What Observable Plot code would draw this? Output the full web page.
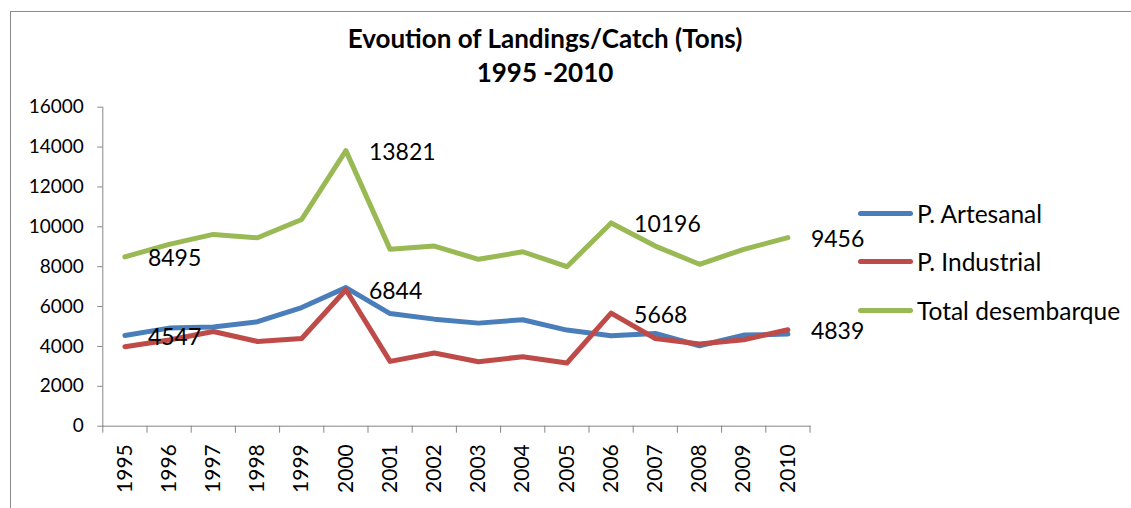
<!DOCTYPE html>
<html>
<head>
<meta charset="utf-8">
<script src="https://cdn.jsdelivr.net/npm/d3@7"></script>
<script src="https://cdn.jsdelivr.net/npm/@observablehq/plot@0.6"></script>
<style>
  body { margin: 0; background: #fff; font-family: Lato, "Open Sans", sans-serif; }
  #wrap { position: relative; width: 1131px; height: 508px; overflow: hidden; background: #fff; }
  #frame { position: absolute; left: 10px; top: 11px; width: 1200px; height: 600px;
           border-top: 1.5px solid #8a8a8a; border-left: 1.5px solid #8a8a8a; pointer-events: none; }
  #title { width: 1090px; height: 74px; padding-top: 21px; text-align: center; font-weight: bold;
           font-size: 26px; line-height: 34px; color: #000; }
  #legend { position: absolute; left: 858px; top: 189px; font-size: 24.5px; color: #000; }
  .row { height: 48.5px; display: flex; align-items: center; }
  .sw { width: 55px; height: 5px; border-radius: 3px; margin-right: 4px; }
  #chart svg { display: block; }
</style>
</head>
<body>
<div id="wrap">
  <div id="title">Evoution of Landings/Catch (Tons)<br>1995 -2010</div>
  <div id="chart"></div>
  <div id="legend"></div>
  <div id="frame"></div>
</div>
<script>
const years = [1995, 1996, 1997, 1998, 1999, 2000, 2001, 2002, 2003, 2004, 2005, 2006, 2007, 2008, 2009, 2010];
const artesanal  = [4547, 4920, 4980, 5240, 5950, 6950, 5650, 5370, 5170, 5340, 4820, 4535, 4650, 4035, 4570, 4620];
const industrial = [3985, 4320, 4750, 4250, 4400, 6844, 3250, 3670, 3235, 3485, 3170, 5668, 4400, 4120, 4335, 4839];
const total      = [8495, 9120, 9620, 9450, 10370, 13821, 8870, 9035, 8370, 8750, 8000, 10196, 9035, 8120, 8870, 9456];
const seriesNames  = ["P. Artesanal", "P. Industrial", "Total desembarque"];
const seriesColors = ["#4A7EBB", "#BE4B48", "#98B954"];
const yTicks = [0, 2000, 4000, 6000, 8000, 10000, 12000, 14000, 16000];
const artesanalLabelYears  = [1995];
const industrialLabelYears = [2000, 2006, 2010];
const totalLabelYears      = [1995, 2000, 2006, 2010];

const seriesValues = [artesanal, industrial, total];
const labelYears = [artesanalLabelYears, industrialLabelYears, totalLabelYears];

const rows = years.flatMap((yr, i) => seriesNames.map((s, k) => ({year: yr, value: seriesValues[k][i], series: s})));
const labels = rows.filter(d => labelYears[seriesNames.indexOf(d.series)].includes(d.year));
const boundaries = years.map(y => y - 0.5).concat([years[years.length - 1] + 0.5]);

const chart = Plot.plot({
  width: 1131,
  height: 413,
  marginTop: 11.7,
  marginBottom: 82.3,
  marginLeft: 102.3,
  marginRight: 321.5,
  x: {type: "linear", domain: [boundaries[0], boundaries[boundaries.length - 1]]},
  y: {domain: [0, 16000]},
  color: {domain: seriesNames, range: seriesColors},
  style: {fontFamily: "Lato, 'Open Sans', sans-serif", fontSize: "19px", color: "#000", background: "transparent"},
  marks: [
    Plot.axisY({ticks: yTicks, tickSize: 5, tickPadding: 14, tickFormat: d => String(d), stroke: "#868686", fill: "#000", label: null, fontSize: 19}),
    Plot.axisX({ticks: boundaries, tickSize: 7, tickFormat: () => "", stroke: "#868686", label: null}),
    Plot.axisX({ticks: years, tickSize: 0, tickPadding: 18, tickRotate: -90, tickFormat: d => String(d), fill: "#000", label: null, fontSize: 21}),
    Plot.frame({anchor: "left", stroke: "#868686"}),
    Plot.frame({anchor: "bottom", stroke: "#868686"}),
    Plot.line(rows, {x: "year", y: "value", z: "series", stroke: "series", strokeWidth: 5, strokeLinejoin: "round", strokeLinecap: "round"}),
    Plot.text(labels, {x: "year", y: "value", text: d => String(d.value), dx: 23, dy: 2, textAnchor: "start", lineAnchor: "middle", fontSize: 23, fill: "#000"})
  ]
});
document.getElementById("chart").appendChild(chart);

const legend = document.getElementById("legend");
seriesNames.forEach((name, k) => {
  const row = document.createElement("div");
  row.className = "row";
  const sw = document.createElement("div");
  sw.className = "sw";
  sw.style.background = seriesColors[k];
  const tx = document.createElement("span");
  tx.textContent = name;
  row.appendChild(sw);
  row.appendChild(tx);
  legend.appendChild(row);
});
</script>
</body>
</html>
